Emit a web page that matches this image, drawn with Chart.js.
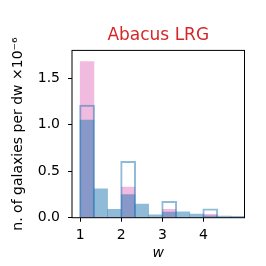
<!DOCTYPE html>
<html>
<head>
<meta charset="utf-8">
<script src="https://cdn.jsdelivr.net/npm/chart.js@4"></script>
<style>
  body { margin: 0; background: #fff; }
  canvas { display: block; }
</style>
</head>
<body>
<canvas id="chart" width="266" height="266"></canvas>
<script>
// histogram bins in w (width 1/3)
const binEdges = [1, 1.3333, 1.6667, 2, 2.3333, 2.6667, 3, 3.3333, 3.6667, 4, 4.3333, 4.6667, 5];
// filled blue histogram
const blueFilled = [1.05, 0.31, 0.09, 0.25, 0.147, 0.03, 0.06, 0.064, 0.04, 0.02, 0.018, 0.015];
// filled pink histogram
const pinkFilled = [1.68, 0, 0, 0.33, 0, 0, 0.09, 0, 0, 0.035, 0, 0];
// step (outline) histogram
const blueStep = [1.215, 0, 0, 0.61, 0, 0, 0.18, 0, 0, 0.1, 0, 0];

const xTicks = [1, 2, 3, 4];
const yTicks = [0, 0.5, 1.0, 1.5];

Chart.defaults.font.family = "DejaVu Sans";
Chart.defaults.color = "#000";

function toPoints(vals) {
  return vals.map((v, i) => ({ x: (binEdges[i] + binEdges[i + 1]) / 2, y: v }));
}

const frame = {
  id: "frame",
  afterDatasetsDraw(chart) {
    const { ctx, chartArea: a } = chart;
    ctx.save();
    ctx.strokeStyle = "#000";
    ctx.lineWidth = 1;
    ctx.strokeRect(a.left, a.top, a.right - a.left, a.bottom - a.top);
    ctx.restore();
  }
};

new Chart(document.querySelector("#chart"), {
  type: "bar",
  data: {
    datasets: [{
      data: toPoints(blueStep),
      backgroundColor: "rgba(0,0,0,0)",
      borderColor: "rgba(31,119,180,0.5)",
      borderWidth: 2,
      borderSkipped: "start",
      barPercentage: 1.146
    }, {
      data: toPoints(blueFilled),
      backgroundColor: "rgba(31,119,180,0.5)",
      borderWidth: 0
    }, {
      data: toPoints(pinkFilled),
      backgroundColor: "rgba(227,119,194,0.5)",
      borderWidth: 0
    }]
  },
  options: {
    responsive: false,
    animation: false,
    devicePixelRatio: 1,
    layout: { padding: { left: 0, right: 21.5, top: 0, bottom: 0 } },
    datasets: {
      bar: { grouped: false, barPercentage: 1, categoryPercentage: 1 }
    },
    plugins: {
      legend: { display: false },
      tooltip: { enabled: false },
      title: {
        display: true,
        fullSize: false,
        text: "Abacus LRG",
        color: "#d62728",
        font: { size: 17, weight: "normal" },
        padding: { top: 25, bottom: 5 }
      }
    },
    scales: {
      x: {
        type: "linear",
        min: 0.8,
        max: 5.0,
        offset: false,
        afterBuildTicks: s => { s.ticks = xTicks.map(v => ({ value: v })); },
        afterFit: s => { s.height = 48.3; },
        ticks: { font: { size: 14 }, padding: 5, maxRotation: 0, callback: v => String(v) },
        grid: { offset: false, drawOnChartArea: false, tickLength: 4, tickColor: "#000" },
        border: { display: false },
        title: { display: true, text: "w", font: { size: 14, style: "italic" }, padding: { top: 0, bottom: 4 } }
      },
      y: {
        min: 0,
        max: 1.8,
        afterBuildTicks: s => { s.ticks = yTicks.map(v => ({ value: v })); },
        afterFit: s => { s.width = 72; },
        ticks: { font: { size: 14 }, padding: 8, callback: v => v.toFixed(1) },
        grid: { drawOnChartArea: false, tickLength: 4, tickColor: "#000" },
        border: { display: false },
        title: { display: true, text: "n. of galaxies per dw ×10⁻⁶", font: { size: 14 }, padding: { top: 10, bottom: 0 } }
      }
    }
  },
  plugins: [frame]
});
</script>
</body>
</html>
